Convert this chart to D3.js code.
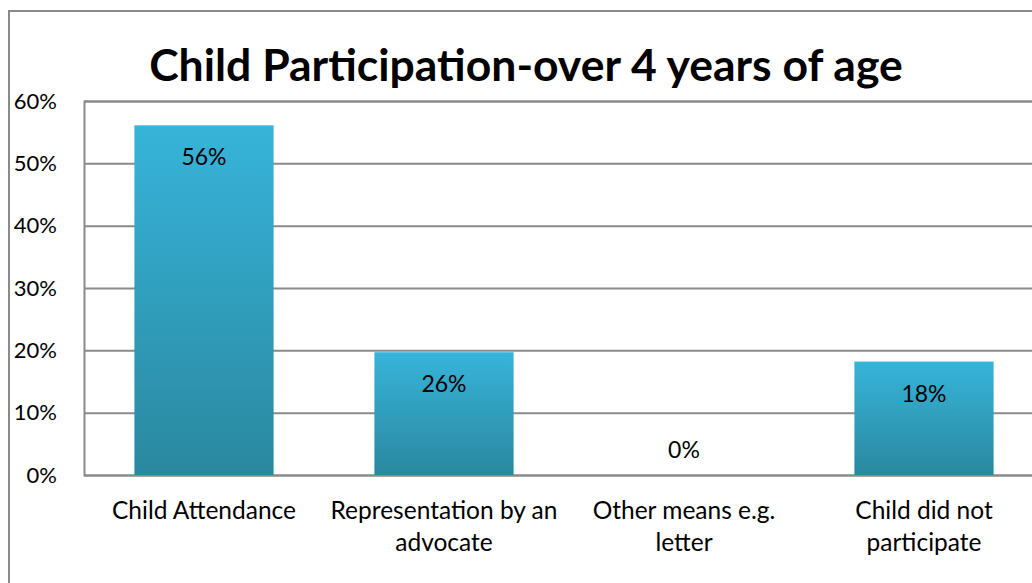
<!DOCTYPE html>
<html>
<head>
<meta charset="utf-8">
<script src="https://cdn.jsdelivr.net/npm/d3@7"></script>
<style>
  html, body { margin: 0; padding: 0; background: #fff; }
  svg { display: block; font-family: Lato, "Open Sans", sans-serif; }
</style>
</head>
<body>
<svg id="chart" width="1032" height="583"></svg>
<script>
const title = "Child Participation-over 4 years of age";
const categories = [
  ["Child Attendance"],
  ["Representation by an", "advocate"],
  ["Other means e.g.", "letter"],
  ["Child did not", "participate"]
];
const values = [0.561, 0.197, 0, 0.182];
const valueLabels = ["56%", "26%", "0%", "18%"];
const yTicks = [0, 0.1, 0.2, 0.3, 0.4, 0.5, 0.6];

const svg = d3.select("#chart");
const margin = { left: 84, top: 101, bottom: 475 };
const plotRight = 1044;

// frame
svg.append("rect")
  .attr("x", 9).attr("y", 11)
  .attr("width", 1100).attr("height", 700)
  .attr("fill", "none").attr("stroke", "#8a8a8a").attr("stroke-width", 2);

const x = d3.scaleBand()
  .domain(d3.range(categories.length))
  .range([margin.left, plotRight])
  .paddingInner(0.42).paddingOuter(0.21);

const y = d3.scaleLinear().domain([0, 0.6]).range([margin.bottom, margin.top]);

const defs = svg.append("defs");
const grad = defs.append("linearGradient")
  .attr("id", "barGrad").attr("x1", 0).attr("y1", 0).attr("x2", 0).attr("y2", 1);
grad.append("stop").attr("offset", "0%").attr("stop-color", "#37b4da");
grad.append("stop").attr("offset", "100%").attr("stop-color", "#2a889f");

// gridlines
const yAxis = d3.axisLeft(y)
  .tickValues(yTicks)
  .tickSize(-(plotRight - margin.left))
  .tickPadding(27)
  .tickFormat(d3.format(".0%"));

const gy = svg.append("g")
  .attr("transform", `translate(${margin.left},0)`)
  .call(yAxis);
gy.select(".domain").attr("stroke", "#8a8a8a").attr("stroke-width", 2);
gy.selectAll(".tick line").attr("stroke", "#8a8a8a").attr("stroke-width", 2);
gy.selectAll(".tick text")
  .attr("fill", "#000")
  .style("font-size", "22px")
  .style("font-family", "Lato, 'Open Sans', sans-serif");

// bars
svg.append("g").selectAll("rect")
  .data(values)
  .join("rect")
  .attr("x", (d, i) => x(i))
  .attr("width", x.bandwidth())
  .attr("y", d => y(d))
  .attr("height", d => y(0) - y(d))
  .attr("fill", "url(#barGrad)");

// value labels
svg.append("g").selectAll("text")
  .data(values)
  .join("text")
  .attr("x", (d, i) => x(i) + x.bandwidth() / 2)
  .attr("y", d => d > 0 ? y(d) + 31 : y(d) - 26)
  .attr("text-anchor", "middle")
  .attr("dominant-baseline", "central")
  .style("font-size", "23px")
  .text((d, i) => valueLabels[i]);

// category labels
const cat = svg.append("g").selectAll("text")
  .data(categories)
  .join("text")
  .attr("x", (d, i) => x(i) + x.bandwidth() / 2)
  .attr("y", 510)
  .attr("text-anchor", "middle")
  .style("font-size", "24.5px");
cat.selectAll("tspan")
  .data(d => d)
  .join("tspan")
  .attr("x", function() { return d3.select(this.parentNode).attr("x"); })
  .attr("dy", (d, j) => j === 0 ? "0.35em" : "32px")
  .text(d => d);

// title
svg.append("text")
  .attr("x", 526).attr("y", 63)
  .attr("text-anchor", "middle")
  .attr("dominant-baseline", "central")
  .style("font-size", "44.5px")
  .style("font-weight", "bold")
  .text(title);
</script>
</body>
</html>
